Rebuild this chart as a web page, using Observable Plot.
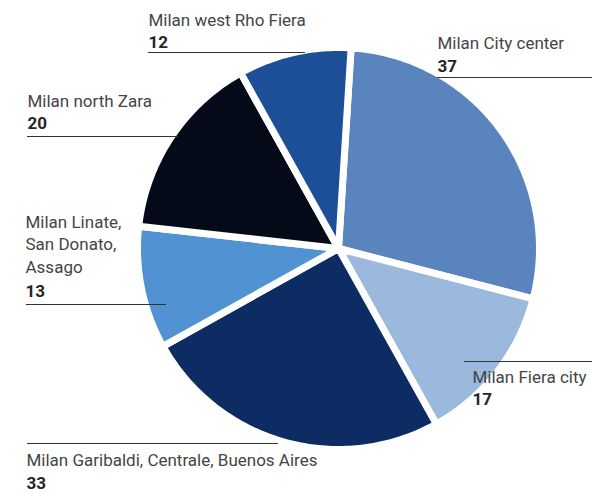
<!DOCTYPE html>
<html><head><meta charset="utf-8">
<script src="https://cdn.jsdelivr.net/npm/d3@7"></script>
<script src="https://cdn.jsdelivr.net/npm/@observablehq/plot@0.6"></script>
<style>body{margin:0;background:#fff}</style>
</head><body><div id="chart"></div>
<script>
// Data
const names = ["Milan City center", "Milan Fiera city", "Milan Garibaldi, Centrale, Buenos Aires", "Milan Linate,\nSan Donato,\nAssago", "Milan north Zara", "Milan west Rho Fiera"];
const values = [37, 17, 33, 13, 20, 12];
const colors = ["#5a84bd", "#9bb9dc", "#0c2c63", "#5192d2", "#050a19", "#1d4f98"];

// Layout (pixels): pie geometry and label anchors
const W = 592, H = 493;
const cx = 338, cy = 248, R = 201, startDeg = 3.6;
const labelX = [437, 472, 26, 25, 27, 148];
const nameY = [48, 382, 465, 272, 106, 25];
const numY = [71, 404, 488, 296, 128, 47];
const ruleY = [77, 361, 443, 304, 136, 52];
const ruleX1 = [437, 464, 27, 26, 27, 148];
const ruleX2 = [592, 592, 278, 166, 178, 305];

const arcs = d3.pie().sort(null).value(d => d)
  .startAngle(startDeg * Math.PI / 180)
  .endAngle(startDeg * Math.PI / 180 + 2 * Math.PI)(values);

const pts = [];
arcs.forEach((a, i) => {
  pts.push({name: names[i], x: cx, y: cy});
  const n = Math.max(8, Math.ceil((a.endAngle - a.startAngle) * 180 / Math.PI));
  for (let k = 0; k <= n; k++) {
    const t = a.startAngle + (a.endAngle - a.startAngle) * k / n;
    pts.push({name: names[i], x: cx + R * Math.sin(t), y: cy - R * Math.cos(t)});
  }
});

const labels = names.map((n, i) => ({name: n, value: values[i], x: labelX[i], ny: nameY[i], vy: numY[i], ry: ruleY[i], x1: ruleX1[i], x2: ruleX2[i]}));

const chart = Plot.plot({
  width: W, height: H,
  margin: 0,
  x: {domain: [0, W], range: [0, W], axis: null},
  y: {domain: [0, H], range: [0, H], axis: null},
  color: {domain: names, range: colors},
  style: {fontFamily: "Roboto, sans-serif", background: "#fff"},
  marks: [
    Plot.line(pts, {x: "x", y: "y", z: "name", fill: "name", stroke: "white", strokeWidth: 7, strokeLinejoin: "round", curve: "linear-closed"}),
    Plot.ruleY(labels, {y: "ry", x1: "x1", x2: "x2", stroke: "#333", strokeWidth: 1.2}),
    Plot.text(labels, {x: "x", y: "ny", text: "name", textAnchor: "start", lineAnchor: "bottom", lineHeight: 1.3, fontSize: 17, fill: "#454545"}),
    Plot.text(labels, {x: "x", y: "vy", text: d => String(d.value), textAnchor: "start", lineAnchor: "bottom", fontSize: 17, fontWeight: "bold", fill: "#262626"})
  ]
});
document.getElementById("chart").appendChild(chart);
</script>
</body></html>
